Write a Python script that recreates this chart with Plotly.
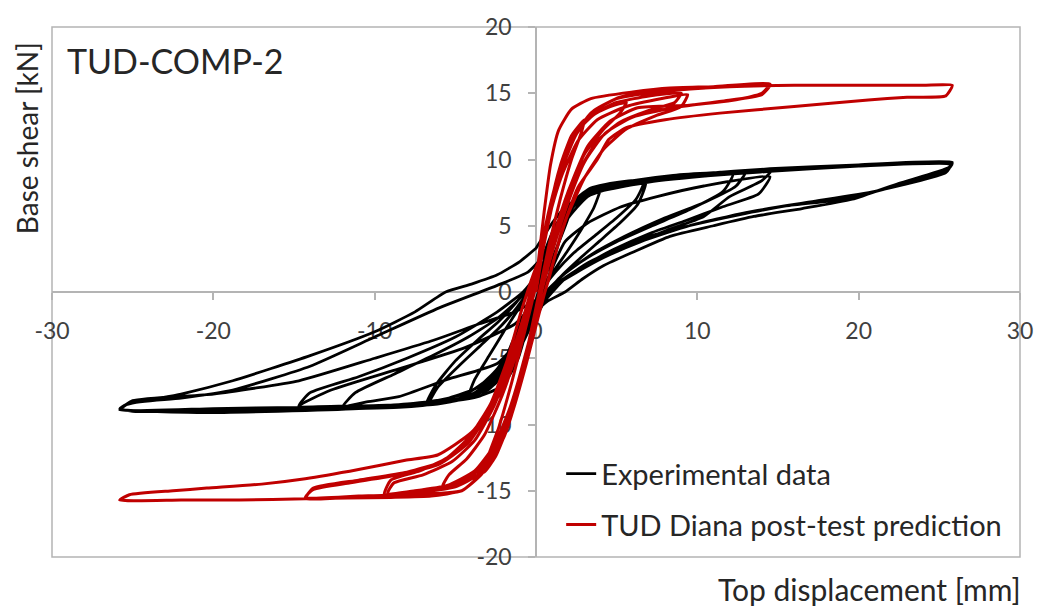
import plotly.graph_objects as go

# ---------------- Experimental data (top displacement [mm], base shear [kN]) ----------------
exp_c1_disp = [0.0, 0.5, 1.0, 1.6, 2.2, 2.0, 1.5, 0.9, 0.3, -0.3, -0.9, -1.5, -2.2, -2.0, -1.4, -0.7, 0.0]
exp_c1_force = [0.0, 2.2, 4.2, 5.8, 6.6, 5.6, 4.0, 2.2, 0.4, -1.8, -3.9, -5.6, -6.6, -5.4, -3.6, -1.6, 0.4]

exp_c2_disp = [0.0, 0.6, 1.3, 2.1, 3.0, 4.0, 3.6, 2.8, 1.9, 1.0, 0.3, -0.4, -1.2, -2.1, -3.0, -4.2,
               -3.8, -2.9, -2.0, -1.1, -0.3, 0.4]
exp_c2_force = [0.4, 2.8, 5.0, 6.6, 7.5, 7.9, 6.4, 4.7, 3.0, 1.4, -0.2, -2.2, -4.4, -6.2, -7.3, -8.0,
                -6.6, -4.8, -3.0, -1.3, 0.4, 2.0]

exp_c3_disp = [0.4, 1.2, 2.2, 3.3, 4.6, 6.7, 6.2, 5.0, 3.6, 2.3, 1.2, 0.4, -0.5, -1.5, -2.6, -3.8, -5.2,
               -6.6, -6.1, -4.8, -3.4, -2.2, -1.2, -0.4, 0.4]
exp_c3_force = [2.0, 4.6, 6.7, 7.8, 8.2, 8.4, 7.0, 5.6, 4.2, 2.9, 1.5, 0.2, -2.0, -4.4, -6.4, -7.6, -8.2,
                -8.4, -7.2, -5.6, -4.0, -2.6, -1.2, 0.2, 1.8]

exp_c4_disp = [0.4, 1.3, 2.3, 3.5, 5.0, 6.8, 6.3, 5.2, 3.9, 2.6, 1.4, 0.5, -0.4, -1.4, -2.5, -3.8, -5.3,
               -6.8, -6.2, -5.0, -3.6, -2.3, -1.3, -0.4, 0.4]
exp_c4_force = [1.8, 4.4, 6.4, 7.5, 8.0, 8.3, 6.6, 5.2, 3.8, 2.4, 1.0, -0.4, -2.6, -5.0, -6.8, -7.8, -8.3,
                -8.5, -7.0, -5.2, -3.6, -2.2, -0.9, 0.5, 1.6]

exp_c5_disp = [0.4, 1.4, 2.6, 4.0, 6.0, 8.5, 11.0, 13.0, 12.4, 10.5, 8.0, 5.5, 3.4, 1.8, 0.6, -0.4, -1.4,
               -2.6, -4.0, -6.0, -8.5, -12.2, -10.5, -8.5, -5.5, -2.4, -1.0, 0.0, 0.8]
exp_c5_force = [1.6, 4.8, 6.9, 7.9, 8.4, 8.8, 9.0, 9.1, 8.0, 6.8, 5.6, 4.2, 2.8, 1.4, 0.0, -1.8, -4.4,
                -6.6, -7.8, -8.4, -8.7, -8.8, -8.3, -7.9, -6.6, -5.4, -3.5, -1.2, 1.2]

exp_c6_disp = [0.8, 1.8, 3.2, 5.2, 7.5, 10.4, 14.5, 13.8, 11.5, 9.3, 7.0, 4.8, 3.0, 1.5, 0.4, -0.6, -1.6,
               -2.8, -4.2, -6.2, -9.0, -11.5, -14.7, -12.7, -8.5, -4.4, -1.3, 0.0, 0.8]
exp_c6_force = [1.2, 3.8, 5.2, 6.4, 7.2, 8.0, 8.7, 7.4, 6.4, 5.4, 4.4, 3.2, 2.0, 0.8, -0.6, -2.6, -5.0,
                -6.9, -7.9, -8.4, -8.6, -8.6, -8.6, -7.4, -5.8, -4.2, -2.4, -0.6, 1.2]

exp_c7_disp = [0.8, 1.9, 3.2, 4.8, 7.2, 10.0, 12.5, 14.6, 14.0, 12.0, 10.4, 8.0, 5.5, 3.4, 1.8, 0.6, -0.4,
               -1.4, -2.6, -4.2, -6.5, -9.5, -12.5, -14.7, -14.0, -11.0, -8.0, -5.0, -2.4, -0.8, 0.2]
exp_c7_force = [1.2, 5.4, 7.2, 8.0, 8.5, 8.9, 9.1, 9.2, 8.4, 7.2, 5.7, 4.6, 3.4, 2.2, 1.0, -0.6, -2.8,
                -5.2, -7.0, -8.0, -8.5, -8.6, -8.7, -8.6, -7.6, -6.4, -5.0, -3.4, -1.5, 0.0, 1.4]

exp_c8_disp = [0.2, 1.0, 1.9, 3.2, 6.3, 10.0, 14.5, 20.0, 25.8, 25.6, 22.5, 19.6, 16.5, 13.5, 11.0, 8.3,
               6.0, 4.2, 2.9, 1.8, 0.7, 0.0, -0.6, -1.1, -1.7, -2.4, -3.6, -5.0, -8.5, -14.7, -20.0,
               -25.0, -25.8, -25.4, -22.0, -18.8, -14.0, -10.0, -7.5, -5.6, -4.0, -2.4, -1.0, 0.0]
exp_c8_force = [1.2, 4.2, 6.3, 7.6, 8.4, 8.9, 9.3, 9.6, 9.8, 9.4, 8.2, 7.0, 6.3, 5.7, 5.0, 4.2,
                3.0, 2.0, 1.0, 0.0, -0.7, -1.5, -3.0, -5.0, -6.4, -7.3, -7.9, -8.2, -8.6, -8.9, -9.0,
                -9.0, -8.8, -8.5, -7.7, -6.7, -4.8, -3.0, -1.5, 0.0, 0.6, 1.3, 2.3, 3.3]

exp_c9_disp = [0.0, 1.0, 1.9, 3.2, 6.3, 10.0, 14.5, 20.0, 25.8, 25.5, 22.0, 19.0, 15.5, 12.5, 9.5, 7.0,
               5.0, 3.2, 2.0, 1.0, 0.2, -0.5, -1.2, -2.0, -3.0, -5.0, -8.5, -14.7, -20.0, -25.8,
               -25.2, -22.0, -18.8, -14.0, -10.0, -6.0, -2.4, -0.5, 0.4]
exp_c9_force = [3.3, 5.2, 6.5, 7.4, 8.2, 8.7, 9.1, 9.5, 9.7, 9.2, 7.9, 7.0, 6.5, 5.8, 5.0, 4.2,
                3.2, 2.2, 1.2, 0.2, -0.8, -2.2, -4.2, -6.2, -7.4, -8.1, -8.5, -8.7, -8.8, -8.9,
                -8.4, -8.0, -7.4, -5.6, -3.4, -1.2, 0.5, 1.5, 2.6]

exp_c10_disp = [0.4, 1.2, 2.4, 4.0, 7.0, 11.0, 15.5, 20.0, 25.7, 25.4, 21.0, 17.0, 13.0, 9.5, 6.5, 4.2,
                2.4, 1.2, 0.3, -0.6, -1.5, -2.6, -4.2, -7.0, -11.0, -16.0, -21.0, -25.7, -25.0,
                -20.0, -14.7, -10.0, -6.5, -3.5, -1.3, 0.0]
exp_c10_force = [2.6, 5.0, 6.8, 7.6, 8.3, 8.8, 9.2, 9.5, 9.6, 9.0, 7.6, 6.8, 6.0, 5.0, 3.8, 2.6,
                 1.4, 0.5, -0.6, -2.2, -4.2, -6.2, -7.6, -8.4, -8.8, -9.0, -9.1, -8.8, -8.2,
                 -7.7, -6.7, -5.0, -3.7, -2.4, -1.5, -0.6]

exp_c11_disp = [0.0, 0.9, 1.8, 3.0, 4.5, 6.6, 9.0, 12.2, 11.6, 9.5, 7.2, 5.0, 3.2, 1.8, 0.8, -0.2, -1.2,
                -2.4, -3.6, -5.4, -7.6, -10.0, -12.0, -11.2, -8.8, -6.4, -4.2, -2.4, -1.1, 0.0]
exp_c11_force = [-0.6, 3.0, 5.8, 7.2, 7.9, 8.4, 8.7, 8.9, 7.6, 6.2, 5.0, 3.8, 2.6, 1.4, 0.2, -1.2, -3.6,
                 -5.8, -7.2, -8.0, -8.4, -8.6, -8.7, -7.6, -6.2, -4.8, -3.4, -2.0, -0.6, 0.8]

# ---------------- TUD Diana post-test prediction ----------------
pred_c1_disp = [0.0, 0.4, 0.9, 1.5, 2.2, 3.0, 2.8, 2.2, 1.5, 0.8, 0.2, -0.4, -1.0, -1.7, -2.5, -3.2,
                -3.0, -2.3, -1.5, -0.7, 0.0]
pred_c1_force = [0.0, 3.0, 6.5, 9.5, 11.8, 13.0, 12.0, 10.0, 7.0, 3.5, 0.0, -3.5, -7.0, -10.0, -12.4, -13.6,
                 -12.5, -10.2, -6.8, -3.0, 0.5]

pred_c2_disp = [0.0, 0.5, 1.1, 1.8, 2.6, 3.6, 4.6, 5.6, 5.2, 4.2, 3.0, 2.0, 1.1, 0.4, -0.3, -1.0, -1.8,
                -2.7, -3.8, -4.8, -5.8, -5.4, -4.3, -3.2, -2.1, -1.1, -0.3, 0.4]
pred_c2_force = [0.5, 4.0, 7.5, 10.3, 12.2, 13.4, 14.0, 14.3, 13.5, 12.3, 10.4, 7.6, 4.2, 0.8, -3.0, -6.8, -9.9,
                 -12.2, -13.6, -14.3, -14.7, -13.8, -12.6, -10.8, -7.8, -4.2, -0.6, 3.0]

pred_c3_disp = [0.4, 1.0, 1.7, 2.5, 3.5, 5.0, 7.0, 9.0, 8.6, 7.0, 5.2, 3.8, 2.6, 1.6, 0.8, 0.1, -0.7,
                -1.6, -2.6, -3.8, -5.5, -7.5, -9.2, -8.8, -7.0, -5.2, -3.8, -2.6, -1.6, -0.7, 0.1]
pred_c3_force = [3.0, 6.5, 9.6, 11.9, 13.4, 14.3, 14.8, 15.0, 14.3, 13.7, 12.8, 11.4, 9.0, 5.8, 2.2, -1.2, -5.0,
                 -8.7, -11.6, -13.5, -14.6, -15.0, -15.2, -14.4, -13.8, -12.8, -11.2, -8.6, -5.4, -1.6, 2.0]

pred_c3b_disp = [0.1, 0.8, 1.6, 2.6, 3.8, 5.6, 7.8, 9.4, 9.0, 7.4, 5.6, 4.2, 3.0, 1.9, 1.0, 0.2, -0.6,
                 -1.5, -2.5, -3.6, -5.0, -7.2, -9.4, -9.0, -7.2, -5.5, -4.1, -2.8, -1.8, -0.9, 0.1]
pred_c3b_force = [2.0, 5.6, 8.8, 11.4, 13.0, 14.0, 14.6, 14.9, 14.0, 13.3, 12.3, 10.8, 8.6, 5.6, 2.0, -1.6, -5.4,
                  -9.2, -12.0, -13.8, -14.7, -15.1, -15.3, -14.2, -13.5, -12.5, -10.9, -8.4, -5.2, -1.4, 2.2]

pred_c4_disp = [0.1, 0.7, 1.4, 2.3, 3.4, 5.0, 7.5, 10.5, 14.5, 14.0, 11.5, 8.5, 6.0, 4.3, 3.0, 2.0, 1.1,
                0.3, -0.5, -1.4, -2.4, -3.6, -5.2, -7.5, -10.5, -14.3, -13.8, -11.0, -8.0, -5.8, -4.2,
                -2.9, -1.8, -0.8, 0.1]
pred_c4_force = [2.0, 5.6, 8.9, 11.6, 13.5, 14.6, 15.1, 15.4, 15.6, 14.9, 14.4, 13.9, 13.2, 12.0, 9.8, 6.8, 3.4,
                 -0.2, -4.0, -8.0, -11.2, -13.5, -14.7, -15.2, -15.4, -15.6, -14.8, -14.2, -13.6, -12.8, -11.4,
                 -9.0, -5.8, -2.0, 1.8]

pred_c5_disp = [0.1, 0.5, 0.9, 1.4, 2.2, 3.4, 6.0, 8.3, 11.0, 14.5, 14.0, 12.4, 9.5, 6.3, 4.6, 3.2, 2.2,
                1.3, 0.5, -0.3, -1.1, -2.0, -3.3, -4.6, -8.0, -11.0, -14.3, -13.8, -11.5, -8.5, -6.0,
                -4.4, -3.0, -1.9, -0.9, 0.0]
pred_c5_force = [1.8, 6.0, 9.6, 12.2, 13.8, 14.6, 15.1, 15.4, 15.5, 15.7, 15.0, 14.5, 14.1, 13.9, 12.9, 11.0, 8.2,
                 4.6, 0.8, -3.4, -7.6, -11.0, -13.6, -15.0, -15.3, -15.4, -15.5, -14.9, -14.4, -13.8, -13.0,
                 -11.6, -9.2, -6.0, -2.4, 1.4]

pred_c6_disp = [0.0, 0.8, 1.6, 2.5, 3.6, 5.2, 8.0, 12.0, 16.0, 20.0, 24.0, 25.8, 25.4, 23.0, 20.6, 16.0,
                11.4, 8.0, 5.6, 4.5, 3.8, 2.6, 1.6, 0.8, 0.0, -0.8, -1.6, -2.4, -3.4, -4.6, -6.5, -9.0,
                -14.3, -18.4, -22.0, -25.8, -25.2, -22.5, -20.4, -17.0, -14.3, -11.0, -8.1, -6.1, -4.0,
                -2.2, -1.2, -0.3, 0.5]
pred_c6_force = [1.4, 5.8, 9.4, 12.0, 13.7, 14.7, 15.2, 15.5, 15.6, 15.6, 15.6, 15.6, 14.8, 14.7, 14.5, 14.0,
                 13.5, 13.0, 12.4, 11.5, 10.0, 7.9, 4.6, 1.0, -2.2, -5.8, -9.2, -11.8, -13.8, -15.0, -15.4, -15.5,
                 -15.6, -15.7, -15.7, -15.7, -15.3, -15.0, -14.8, -14.5, -14.1, -13.4, -12.7, -12.3, -10.6,
                 -7.6, -4.0, 0.0, 4.0]

x_tick_vals = [-30, -20, -10, 0, 10, 20, 30]
x_tick_text = ["-30", "-20", "-10", "0", "10", "20", "30"]
y_tick_vals = [-20, -15, -10, -5, 0, 5, 10, 15, 20]
y_tick_text = ["-20", "-15", "-10", "-5", "0", "5", "10", "15", "20"]

exp_disp = (exp_c1_disp + exp_c2_disp + exp_c3_disp + exp_c4_disp + exp_c5_disp + exp_c6_disp
            + exp_c7_disp + exp_c8_disp + exp_c9_disp + exp_c10_disp + exp_c11_disp)
exp_force = (exp_c1_force + exp_c2_force + exp_c3_force + exp_c4_force + exp_c5_force + exp_c6_force
             + exp_c7_force + exp_c8_force + exp_c9_force + exp_c10_force + exp_c11_force)
pred_disp = (pred_c1_disp + pred_c2_disp + pred_c3_disp + pred_c3b_disp + pred_c4_disp
             + pred_c5_disp + pred_c6_disp)
pred_force = (pred_c1_force + pred_c2_force + pred_c3_force + pred_c3b_force + pred_c4_force
              + pred_c5_force + pred_c6_force)

FONT = "Lato"
AXIS_GREY = "#B4B4B4"
TEXT_GREY = "#404040"

fig = go.Figure()
fig.add_trace(go.Scatter(
    x=exp_disp, y=exp_force, mode="lines", name="Experimental data",
    line=dict(color="#000000", width=2.8, shape="spline", smoothing=0.5),
    legendgroup="exp",
))
fig.add_trace(go.Scatter(
    x=pred_disp, y=pred_force, mode="lines", name="TUD Diana post-test prediction",
    line=dict(color="#C00000", width=3.0, shape="spline", smoothing=0.5),
    legendgroup="pred",
))

axis_common = dict(
    showline=True, linecolor=AXIS_GREY, linewidth=1.5,
    ticks="outside", tickcolor=AXIS_GREY, tickwidth=1.5, ticklen=7,
    showgrid=False, zeroline=False, layer="below traces",
    tickfont=dict(family=FONT, size=23, color=TEXT_GREY),
)

fig.update_layout(
    width=1045, height=610,
    margin=dict(l=52, r=20, t=18, b=53),
    paper_bgcolor="white", plot_bgcolor="white",
    font=dict(family=FONT, color=TEXT_GREY),
    xaxis=dict(range=[-30, 30], domain=[0, 1], anchor="free", position=0.5,
               tickvals=x_tick_vals, ticktext=x_tick_text, ticklabelstandoff=12, **axis_common),
    yaxis=dict(range=[-20, 20], domain=[0, 1], anchor="free", position=0.5,
               tickvals=y_tick_vals, ticktext=y_tick_text, ticklabelstandoff=12, **axis_common),
    legend=dict(x=0.526, y=0.205, xanchor="left", yanchor="top",
                bgcolor="rgba(0,0,0,0)", borderwidth=0,
                font=dict(family=FONT, size=29, color="#262626"),
                tracegroupgap=10, traceorder="grouped"),
    shapes=[dict(type="rect", xref="paper", yref="paper", x0=0, y0=0, x1=1, y1=1,
                 line=dict(color=AXIS_GREY, width=1.5), layer="below")],
    annotations=[
        dict(text="TUD-COMP-2", xref="paper", yref="paper", x=0.013, y=0.937,
             xanchor="left", yanchor="middle", showarrow=False,
             font=dict(family=FONT, size=34, color="#262626")),
        dict(text="Base shear [kN]", xref="paper", yref="paper", x=-0.026, y=0.79,
             xanchor="center", yanchor="middle", textangle=-90, showarrow=False,
             font=dict(family=FONT, size=28, color="#262626")),
        dict(text="Top displacement [mm]", xref="paper", yref="paper", x=1.003, y=-0.061,
             xanchor="right", yanchor="middle", showarrow=False,
             font=dict(family=FONT, size=30, color="#262626")),
    ],
)

fig.write_html("out.html")
